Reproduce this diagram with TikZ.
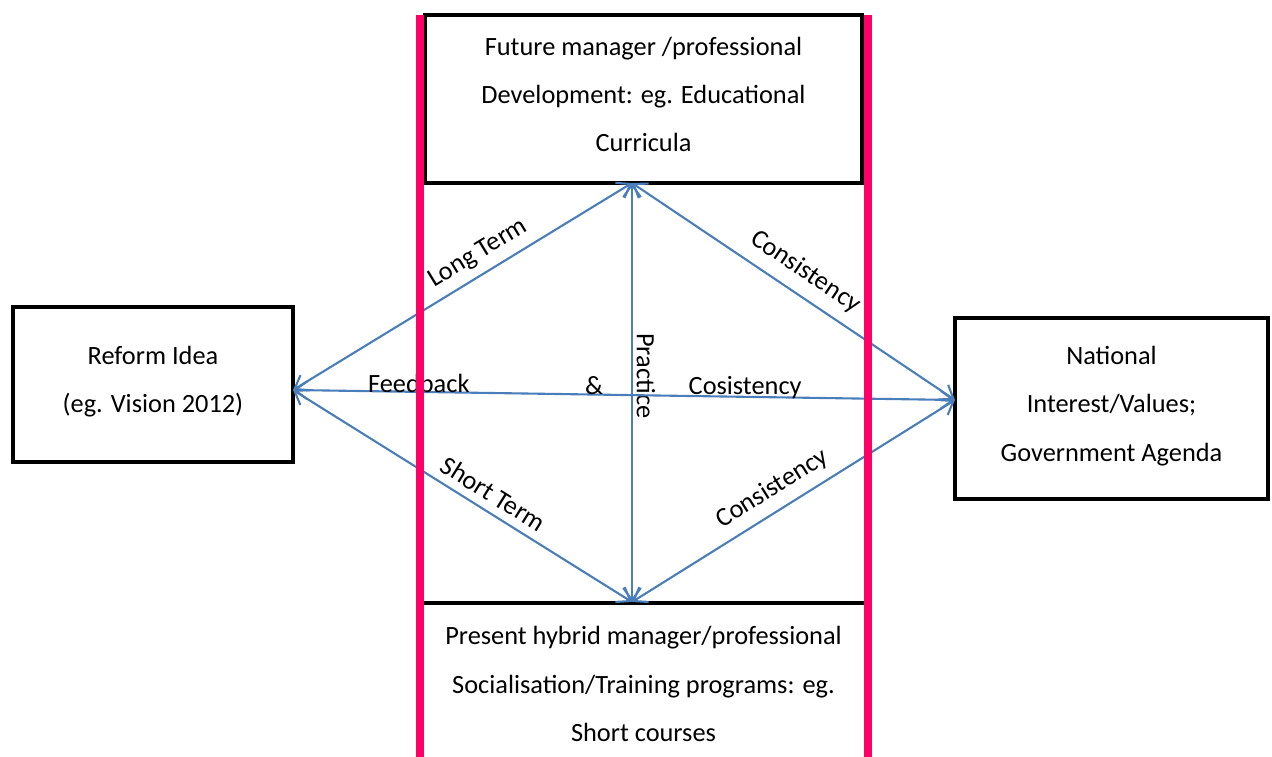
\documentclass[tikz,border=0pt]{standalone}
\usepackage{fontspec}
\setmainfont{Carlito}
\usepackage{tikz}
\usetikzlibrary{arrows.meta}
\definecolor{linkblue}{RGB}{74,126,187}
\definecolor{barpink}{RGB}{255,0,102}

\begin{document}
\begin{tikzpicture}[x=0.02cm, y=-0.02cm,
        box/.style={draw=black, line width=2.4pt, fill=white, align=center, inner sep=0pt,
                    font=\fontsize{15}{27.5}\selectfont},
        link/.style={linkblue, line width=1.2pt,
                     {Straight Barb[length=7pt,width=10pt]}-{Straight Barb[length=7pt,width=10pt]}},
        lbl/.style={black, font=\fontsize{15}{18}\selectfont, inner sep=2pt},
        bar/.style={barpink, line width=4.5pt}]
        \useasboundingbox (0,0) rectangle (1272,757);

        % boxes
        \node[box, minimum width=8.74cm, minimum height=3.36cm] (future) at (643.5,99)
            {Future manager /professional\\Development: eg. Educational\\Curricula\\[-22pt]};
        \node[box, minimum width=5.6cm, minimum height=3.1cm] (reform) at (153,384.5)
            {Reform Idea\\(eg. Vision 2012)\\[-22pt]};
        \node[box, minimum width=6.26cm, minimum height=3.62cm] (national) at (1111.5,408.5)
            {National\\Interest/Values;\\Government Agenda\\[-22pt]};
        \node[box, draw=none, minimum width=8.74cm, minimum height=3.16cm] (present) at (643.5,684)
            {Present hybrid manager/professional\\Socialisation/Training programs: eg.\\Short courses};
        \draw[black, line width=2.4pt] (present.north west) -- (present.north east);

        % arrow ends
        \coordinate (rtip) at (293,390);
        \coordinate (ftip) at (632,183);
        \coordinate (ptip) at (632,602);
        \coordinate (ntip) at (955,400);

        \draw[link] (rtip) -- (ftip) node[lbl, pos=.57, above=3pt, rotate=31.4] {Long Term};
        \draw[link] (rtip) -- (ptip) node[lbl, pos=.57, above=3pt, rotate=-32] {Short Term};
        \draw[link] (ftip) -- (ntip) node[lbl, pos=.51, above=5pt, rotate=-33.9] {Consistency};
        \draw[link] (ptip) -- (ntip) node[lbl, pos=.46, above=4pt, rotate=32] {Consistency};
        \draw[link] (ftip) -- (ptip) node[lbl, pos=.46, anchor=south, rotate=-90] {Practice};
        \draw[link] (rtip) -- (ntip)
            node[lbl, pos=.19, yshift=5pt] {Feedback}
            node[lbl, pos=.455, yshift=5pt] {\&}
            node[lbl, pos=.683, yshift=5pt] {Cosistency};

        % pink bars
        \draw[bar] (420,15) -- (420,757);
        \draw[bar] (868,15) -- (868,757);
\end{tikzpicture}
\end{document}
